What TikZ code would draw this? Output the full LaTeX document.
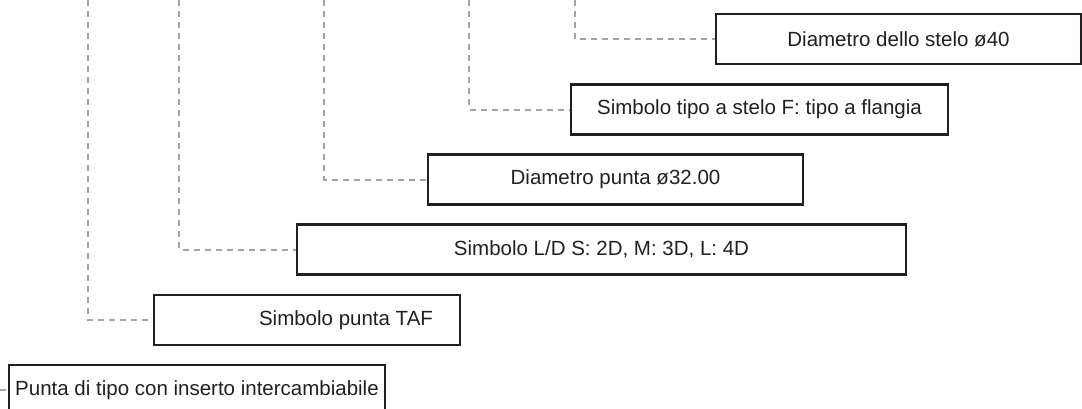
\documentclass[tikz,border=0pt]{standalone}
\usepackage{fontspec}
\setmainfont{Liberation Sans}
\usepackage{tikz}

\definecolor{inkdark}{HTML}{231F20}
\definecolor{leadgray}{HTML}{A3A3A3}

\begin{document}
\begin{tikzpicture}[x=1pt, y=-1pt,
    box/.style={draw=inkdark, line width=2.5pt, minimum height=50pt, inner sep=0pt,
      text=inkdark, font=\fontsize{20.5}{24}\selectfont},
    leader/.style={draw=leadgray, line width=2pt, dash pattern=on 6pt off 5pt}]
        \useasboundingbox (0, 0) rectangle (1082, 408);
        % code boxes, from the stem up to the tip type
        \node[box, minimum width=365pt] (stelo) at (898.5, 39) {Diametro dello stelo ø40};
        \node[box, minimum width=377pt] (tipostelo) at (759.5, 109.5) {Simbolo tipo a stelo F: tipo a flangia};
        \node[box, minimum width=375pt] (diampunta) at (615.5, 179.5) {Diametro punta ø32.00};
        \node[box, minimum width=609pt] (ldsym) at (601.5, 249.5) {Simbolo L/D S: 2D, M: 3D, L: 4D};
        \node[box, minimum width=306pt] (puntasym) at (307, 320) {\hspace*{78pt}Simbolo punta TAF};
        \node[box, minimum width=376pt] (tipopunta) at (197, 390) {Punta di tipo con inserto intercambiabile};
        % leaders coming down from the code above
        \coordinate (top1) at (575, 0);
        \coordinate (top2) at (469, 0);
        \coordinate (top3) at (324, 0);
        \coordinate (top4) at (179, 0);
        \coordinate (top5) at (88, 0);
        \coordinate (edge6) at (0, 390);
        \draw[leader] (top1) |- (stelo.west);
        \draw[leader] (top2) |- (tipostelo.west);
        \draw[leader] (top3) |- (diampunta.west);
        \draw[leader] (top4) |- (ldsym.west);
        \draw[leader] (top5) |- (puntasym.west);
        \draw[leader] (edge6) -- (tipopunta.west);
      \end{tikzpicture}
\end{document}
